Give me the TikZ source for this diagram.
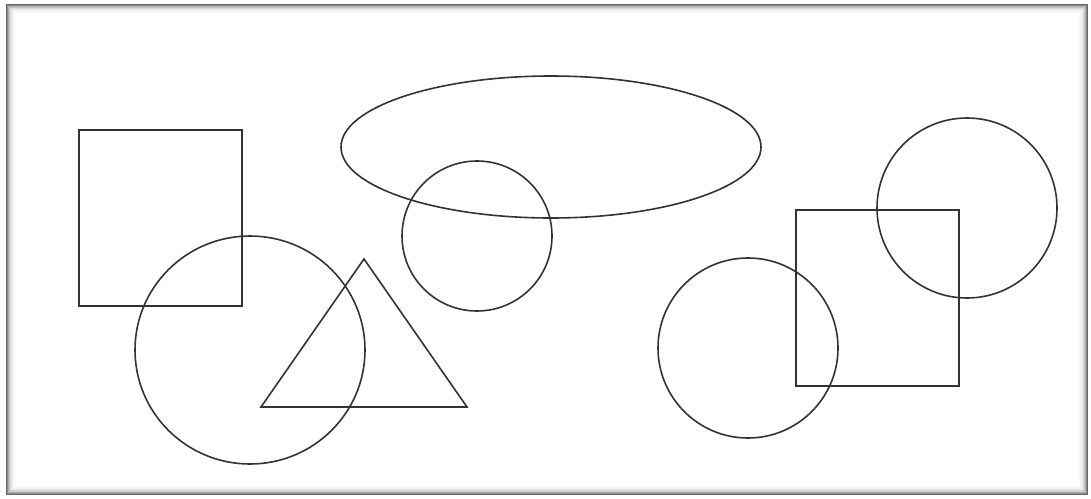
\documentclass[tikz,border=0pt]{standalone}
\begin{document}
\begin{tikzpicture}[x=1pt,y=-1pt,
  shp/.style={draw=black!80,line width=1.6pt}]
\useasboundingbox (0,0) rectangle (1091,498);
\fill[white] (0,0) rectangle (1091,498);
% frame with inner shadow
\foreach \i/\g in {0/60,1/45,2/32,3/22,4/15,5/10,6/6,7/4,8/2}{
  \draw[black!\g,line width=1pt] (6.5+\i,4.5+\i) rectangle (1087.5-\i,494.5-\i);
}
\draw[shp] (79,130) rectangle (242,306);
\draw[shp] (250,350) ellipse [x radius=115,y radius=114];
\draw[shp] (364,259) -- (467,407) -- (261,407) -- cycle;
\draw[shp] (551,147) ellipse [x radius=210,y radius=71];
\draw[shp] (477,236) circle [radius=75];
\draw[shp] (748,348) circle [radius=90];
\draw[shp] (796,210) rectangle (959,386);
\draw[shp] (967,208) circle [radius=90];
\end{tikzpicture}
\end{document}
